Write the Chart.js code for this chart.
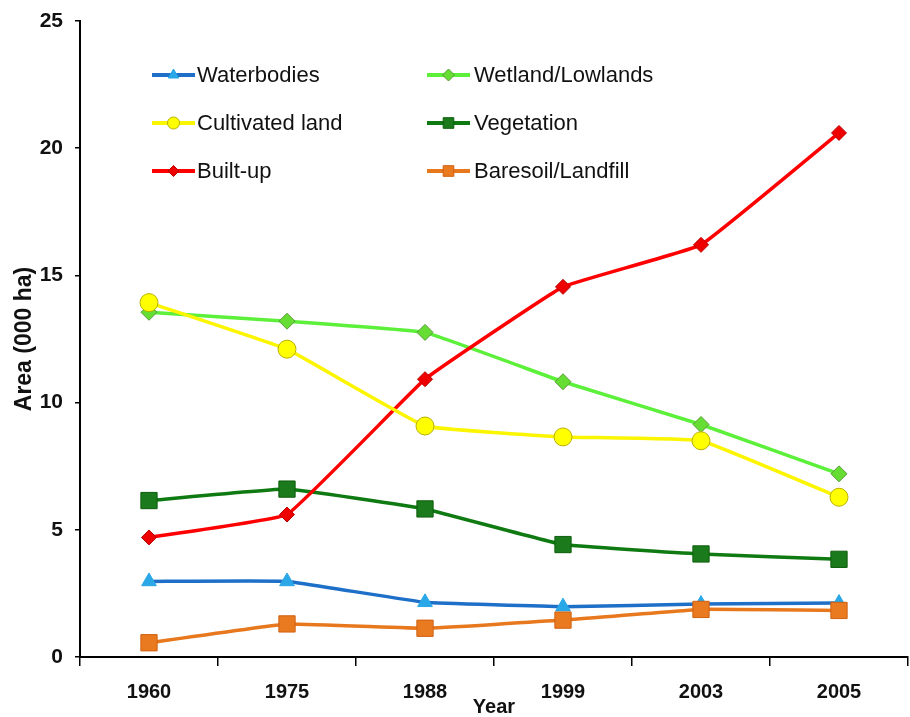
<!DOCTYPE html>
<html>
<head>
<meta charset="utf-8">
<script src="https://cdn.jsdelivr.net/npm/chart.js@4.4.0/dist/chart.umd.min.js"></script>
<style>
  html, body { margin: 0; padding: 0; background: #ffffff; }
  #c { display: block; }
</style>
</head>
<body>
<canvas id="c" width="910" height="717"></canvas>
<script>
// ---- data ----
const years = ['1960', '1975', '1988', '1999', '2003', '2005'];
const waterbodies = [2.97, 2.97, 2.15, 1.98, 2.08, 2.12];
const wetland     = [13.55, 13.2, 12.76, 10.82, 9.14, 7.2];
const cultivated  = [13.93, 12.1, 9.08, 8.65, 8.5, 6.28];
const vegetation  = [6.15, 6.6, 5.82, 4.42, 4.05, 3.84];
const builtup     = [4.7, 5.6, 10.92, 14.55, 16.2, 20.6];
const baresoil    = [0.56, 1.3, 1.13, 1.45, 1.87, 1.83];
const seriesNames = ['Waterbodies', 'Wetland/Lowlands', 'Cultivated land', 'Vegetation', 'Built-up', 'Baresoil/Landfill'];
const yTicks = [0, 5, 10, 15, 20, 25];

const FONT = "'Liberation Sans', Arial, sans-serif";

function ds(label, data, line, fill, border, style, radius, order, legendRadius) {
  return {
    label, data,
    borderColor: line, borderWidth: 3.5,
    pointStyle: style, pointRadius: radius, pointHoverRadius: radius,
    pointBackgroundColor: fill, pointBorderColor: border, pointBorderWidth: 1,
    tension: 0.08, order, legendRadius
  };
}

const datasets = [
  ds(seriesNames[0], waterbodies, '#1e6fc8', '#29a7e6', '#29a7e6', 'triangle', 8.5, 4, 6),
  ds(seriesNames[1], wetland,     '#5cf03a', '#66dd33', '#5a9a3a', 'rectRot', 8, 2, 6),
  ds(seriesNames[2], cultivated,  '#fbf500', '#ffff00', '#b8b000', 'circle', 9, 0, 6),
  ds(seriesNames[3], vegetation,  '#0f7a12', '#1b7a1b', '#0d5e0d', 'rect', 11.5, 3, 7.5),
  ds(seriesNames[4], builtup,     '#ff0000', '#ee0000', '#b80000', 'rectRot', 7.5, 1, 5.5),
  ds(seriesNames[5], baresoil,    '#e8781e', '#e97a20', '#d06010', 'rect', 11.5, 0, 7.5)
];

const legendPlugin = {
  id: 'insideLegend',
  afterDatasetsDraw(chart) {
    const ctx = chart.ctx;
    const colLine = [[152, 195], [427, 470]];
    const colText = [197, 474];
    const rowY = [75, 123, 171];
    chart.data.datasets.forEach((d, i) => {
      const col = i % 2, row = Math.floor(i / 2);
      const y = rowY[row];
      ctx.save();
      ctx.strokeStyle = d.borderColor;
      ctx.lineWidth = 4;
      ctx.beginPath();
      ctx.moveTo(colLine[col][0], y);
      ctx.lineTo(colLine[col][1], y);
      ctx.stroke();
      ctx.fillStyle = d.pointBackgroundColor;
      ctx.strokeStyle = d.pointBorderColor;
      ctx.lineWidth = 1;
      Chart.helpers.drawPoint(ctx, {pointStyle: d.pointStyle, radius: d.legendRadius, rotation: 0, borderWidth: 1},
        (colLine[col][0] + colLine[col][1]) / 2, y);
      ctx.fillStyle = '#111';
      ctx.font = '22px ' + FONT;
      ctx.textAlign = 'left';
      ctx.textBaseline = 'middle';
      ctx.fillText(d.label, colText[col], y + 1);
      ctx.restore();
    });
  }
};

new Chart(document.getElementById('c'), {
  type: 'line',
  data: { labels: years, datasets },
  options: {
    responsive: false,
    devicePixelRatio: 1,
    animation: false,
    layout: { autoPadding: false, padding: { top: 21, right: 2, bottom: 0, left: 0 } },
    plugins: { legend: { display: false }, tooltip: { enabled: false } },
    scales: {
      x: {
        type: 'category',
        offset: true,
        grid: { offset: true, drawOnChartArea: false, drawTicks: true, tickLength: 9, color: '#000', lineWidth: 1.5 },
        border: { color: '#000', width: 2 },
        ticks: { color: '#111', padding: 14, font: { family: FONT, size: 20, weight: 'bold' }, maxRotation: 0 },
        title: { display: true, text: 'Year', color: '#111', padding: { top: 0, bottom: 0 },
                 font: { family: FONT, size: 20, weight: 'bold', lineHeight: 1 } },
        afterFit(scale) { scale.height = 60; scale.paddingLeft = 0; scale.paddingRight = 0; }
      },
      y: {
        min: 0, max: 25,
        afterBuildTicks(scale) { scale.ticks = yTicks.map(v => ({ value: v })); },
        grid: { drawOnChartArea: false, drawTicks: true, tickLength: 5, color: '#000', lineWidth: 1.5 },
        border: { color: '#000', width: 2 },
        ticks: { color: '#111', padding: 12, font: { family: FONT, size: 21, weight: 'bold' } },
        title: { display: true, text: 'Area (000 ha)', color: '#111', padding: { top: 13, bottom: 0 },
                 font: { family: FONT, size: 23, weight: 'bold', lineHeight: 1 } },
        afterFit(scale) { scale.width = 80; scale.paddingTop = 0; scale.paddingBottom = 0; }
      }
    }
  },
  plugins: [legendPlugin]
});
</script>
</body>
</html>
